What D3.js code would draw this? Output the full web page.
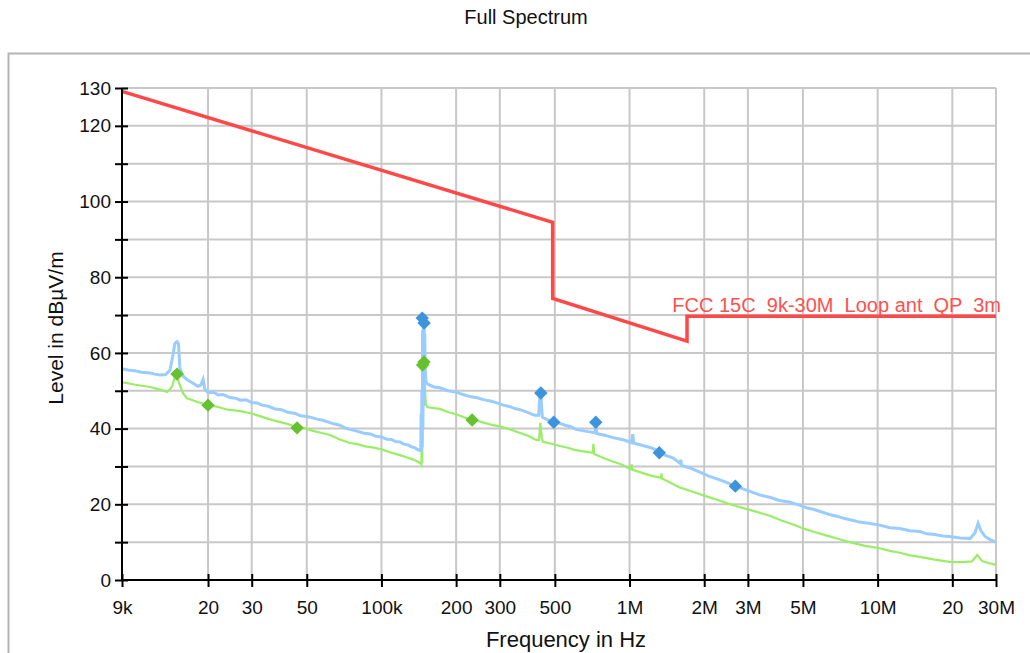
<!DOCTYPE html>
<html><head><meta charset="utf-8">
<script src="https://cdn.jsdelivr.net/npm/d3@7"></script>
<style>
body{margin:0;background:#fff;}
svg{display:block;font-family:"Liberation Sans",Arial,sans-serif;}
</style></head><body>
<svg id="c" width="1030" height="653"></svg>
<script>
// ---- data ----
const title = "Full Spectrum";
const xLabel = "Frequency in Hz";
const yLabel = "Level in dBµV/m";
const limitLabel = "FCC 15C  9k-30M  Loop ant  QP  3m";

const xTickValues = [9e3,20e3,30e3,50e3,100e3,200e3,300e3,500e3,1e6,2e6,3e6,5e6,10e6,20e6,30e6];
const xTickLabels = ["9k","20","30","50","100k","200","300","500","1M","2M","3M","5M","10M","20","30M"];
const yTickValues = [0,10,20,30,40,50,60,70,80,90,100,110,120,130];
const yTickLabels = ["0","","20","","40","","60","","80","","100","","120","130"];

const limitFreq  = [9e3, 490e3, 490e3, 1.705e6, 1.705e6, 30e6];
const limitLevel = [129.1, 94.5, 74.4, 63.1, 69.7, 69.7];

const peakFreq = [9.0e3,9.5e3,10.15e3,10.8e3,11.67e3,12.2e3,12.8e3,13.5e3,14.05e3,14.4e3,14.7e3,15.0e3,15.2e3,15.4e3,15.8e3,16.4e3,17.4e3,18.2e3,18.7e3,19.1e3,19.4e3,
  20e3,21e3,22e3,23e3,24.5e3,26e3,27e3,28.5e3,30e3,31.5e3,33e3,35e3,37.3e3,39.5e3,42e3,45e3,47e3,50e3,52.5e3,55e3,58e3,62e3,65e3,68e3,71e3,74.6e3,79e3,85e3,90e3,95e3,100e3,105e3,110e3,114e3,118.8e3,123e3,128e3,132e3,136e3,140e3,144e3,
  144.5e3,145e3,145.5e3,146e3,146.5e3,147e3,147.5e3,148e3,148.5e3,149e3,149.5e3,150e3,151e3,152e3,155e3,163e3,172e3,185e3,200e3,213e3,227e3,245e3,260e3,275e3,292e3,310e3,330e3,345e3,362e3,390e3,414e3,430e3,435e3,440e3,445e3,470e3,495e3,523e3,550e3,580e3,605e3,631e3,680e3,725e3,731e3,737e3,800e3,874e3,950e3,1.02e6,1.03e6,1.04e6,1.12e6,1.21e6,1.3e6,1.39e6,1.5e6,1.60e6,1.61e6,1.62e6,1.75e6,1.92e6,2.1e6,2.30e6,2.5e6,2.67e6,3.0e6,3.34e6,3.7e6,4.02e6,4.4e6,4.84e6,5.2e6,5.5e6,6.0e6,6.4e6,6.9e6,7.3e6,7.9e6,8.45e6,9.2e6,10.2e6,11.2e6,12.3e6,13.5e6,14.8e6,15.8e6,17e6,18.3e6,19.5e6,21.5e6,23.6e6,24.7e6,25.4e6,26.1e6,27.1e6,28.5e6,30e6];
const peakLevel = [55.8,55.5,55.3,54.9,54.7,54.4,54.2,54.3,55.5,59.0,62.5,63.0,62.5,56.0,54.0,53.0,52.0,51.2,51.5,53.0,50.5,
  49.5,49.6,48.9,49.0,48.2,48.0,47.5,47.6,46.9,46.8,46.2,45.9,45.2,45.0,44.3,44.0,43.4,43.2,42.9,42.5,42.2,41.6,41.2,40.9,40.2,39.8,39.4,38.8,38.6,38.0,37.8,37.2,37.1,36.6,36.5,35.9,35.7,35.2,35.0,34.4,34.2,
  44.0,34.0,50.0,35.0,66.0,40.0,69.0,46.0,68.0,57.0,65.0,56.0,53.0,52.0,51.6,51.0,50.8,50.0,49.7,49.0,48.5,48.1,47.6,47.3,46.8,46.2,45.8,45.3,45.0,44.2,43.5,43.5,48.5,48.0,43.0,42.3,41.9,41.4,40.9,40.5,39.9,39.6,39.2,38.9,41.0,38.7,38.2,37.5,37.0,36.3,38.5,36.2,35.6,35.0,34.2,33.0,32.2,30.8,31.8,30.3,29.6,28.5,27.4,26.5,25.6,24.8,23.6,22.5,21.8,21.0,20.6,19.8,19.0,18.7,17.9,17.3,16.8,16.3,15.8,15.3,15.0,14.5,13.8,13.6,13.0,12.8,12.2,12.0,11.6,11.5,11.1,11.0,12.5,15.0,13.0,11.5,10.6,10.0];

const avgFreq = [9.0e3,10.2e3,11.67e3,12.8e3,13.7e3,14.3e3,14.7e3,15.0e3,15.3e3,15.8e3,16.4e3,18e3,20e3,22e3,24e3,27e3,30e3,33e3,37e3,41e3,45.7e3,50e3,53e3,57e3,62e3,68e3,74.6e3,80e3,86e3,93e3,100e3,109e3,118.8e3,125e3,132e3,138e3,144e3,
  145e3,145.5e3,146e3,146.5e3,147e3,148e3,149e3,150e3,151e3,153e3,160e3,172e3,185e3,200e3,215e3,231e3,248e3,265e3,282e3,300e3,330e3,360e3,390e3,420e3,432e3,437e3,443e3,448e3,485e3,523e3,560e3,600e3,650e3,710e3,715e3,720e3,780e3,850e3,930e3,1.01e6,1.02e6,1.03e6,1.1e6,1.2e6,1.34e6,1.345e6,1.35e6,1.45e6,1.6e6,1.8e6,2.0e6,2.3e6,2.6e6,2.95e6,3.34e6,3.7e6,4.1e6,4.6e6,5.07e6,5.6e6,6.2e6,6.9e6,7.71e6,8.9e6,10.2e6,11.2e6,12.3e6,13.5e6,14.8e6,17e6,19.5e6,22e6,24.0e6,25.2e6,26.4e6,28e6,30e6];
const avgLevel = [52.3,51.6,51.0,50.3,49.7,51.0,53.5,54.2,52.0,49.5,48.1,47.1,46.2,45.7,45.0,44.6,44.0,43.1,42.1,41.4,40.4,40.0,39.4,38.9,38.3,37.1,36.2,35.9,35.3,35.0,34.5,33.7,33.0,32.5,32.0,31.5,30.8,
  30.5,40.0,31.0,55.0,56.0,57.0,56.0,50.0,46.5,45.7,45.5,45.2,44.4,43.8,43.0,42.3,41.9,41.4,40.9,40.6,39.8,38.9,38.1,37.0,37.0,41.5,37.5,36.5,36.0,35.4,35.0,34.4,34.0,33.6,36.0,33.3,32.3,31.4,30.5,29.3,30.5,29.1,28.5,27.7,27.0,28.2,26.8,25.8,24.4,23.3,22.3,21.0,19.8,18.8,17.8,16.9,15.7,14.6,13.5,12.6,11.8,10.9,10.0,9.0,8.4,7.7,7.2,6.5,6.1,5.4,4.8,4.7,4.9,6.6,5.0,4.5,4.0];

const peakMarkerFreq  = [146e3,148.6e3,439e3,495e3,731e3,1.318e6,2.67e6];
const peakMarkerLevel = [69.2,67.9,49.4,41.7,41.7,33.6,24.8];
const avgMarkerFreq   = [15.0e3,20.0e3,45.7e3,146.5e3,148.5e3,232e3];
const avgMarkerLevel  = [54.4,46.2,40.2,56.8,57.6,42.3];

// ---- layout ----
const svg = d3.select("#c");
const m = {l:122, r:996, t:88, b:580};
const x = d3.scaleLog().domain([9e3,30e6]).range([m.l,m.r]);
const y = d3.scaleLinear().domain([0,130]).range([m.b,m.t]);

// outer frame
svg.append("rect").attr("x",8.5).attr("y",53.5).attr("width",1040).attr("height",640)
  .attr("fill","#fff").attr("stroke","#b4b4b4").attr("stroke-width",2);

// title
svg.append("text").attr("x",526).attr("y",24).attr("text-anchor","middle")
  .attr("font-size",20).attr("fill","#111").text(title);

// grid
const grid = svg.append("g").attr("stroke","#c8c8c8").attr("stroke-width",2);
grid.selectAll("line.v").data(xTickValues.slice(1)).join("line")
  .attr("x1",d=>x(d)).attr("x2",d=>x(d)).attr("y1",m.t).attr("y2",m.b);
grid.selectAll("line.h").data(yTickValues.slice(1)).join("line")
  .attr("x1",m.l).attr("x2",m.r).attr("y1",d=>y(d)).attr("y2",d=>y(d));

// traces
const line = (fs, ls) => d3.line().x((d,i)=>x(fs[i])).y((d,i)=>y(ls[i]))(fs);
svg.append("path").attr("d",line(avgFreq,avgLevel)).attr("fill","none")
  .attr("stroke","#99ee66").attr("stroke-width",2.2);
svg.append("path").attr("d",line(peakFreq,peakLevel)).attr("fill","none")
  .attr("stroke","#99ccff").attr("stroke-width",3);

// limit
svg.append("path").attr("d",line(limitFreq,limitLevel)).attr("fill","none")
  .attr("stroke","#ff4848").attr("stroke-width",3.5);
svg.append("text").attr("x",x(30e6)+5).attr("y",y(69.7)-4).attr("text-anchor","end")
  .attr("font-size",20).attr("fill","#ff5050").style("white-space","pre").text(limitLabel);

// markers
const diamond = d3.symbol().type(d3.symbolDiamond2).size(115);
svg.append("g").selectAll("path").data(avgMarkerFreq).join("path")
  .attr("d",diamond).attr("fill","#66c030")
  .attr("transform",(d,i)=>`translate(${x(d)},${y(avgMarkerLevel[i])})`);
svg.append("g").selectAll("path").data(peakMarkerFreq).join("path")
  .attr("d",diamond).attr("fill","#3d93dc")
  .attr("transform",(d,i)=>`translate(${x(d)},${y(peakMarkerLevel[i])})`);

// axes
const xAxis = d3.axisBottom(x).tickValues(xTickValues).tickFormat((d,i)=>xTickLabels[i]).tickSize(7).tickPadding(14);
const gx = svg.append("g").attr("transform",`translate(0,${m.b})`).call(xAxis);
gx.select(".domain").attr("stroke","#000").attr("stroke-width",2);
gx.selectAll(".tick line").attr("stroke","#000").attr("stroke-width",2).attr("y1",-6);
gx.selectAll(".tick text").attr("font-size",19).attr("fill","#111").attr("font-family","Liberation Sans, Arial, sans-serif");

const yAxis = d3.axisLeft(y).tickValues(yTickValues).tickFormat((d,i)=>yTickLabels[i]).tickSize(7).tickPadding(4);
const gy = svg.append("g").attr("transform",`translate(${m.l},0)`).call(yAxis);
gy.select(".domain").attr("stroke","#000").attr("stroke-width",2);
gy.selectAll(".tick line").attr("stroke","#000").attr("stroke-width",2).attr("x2",6).attr("x1",-7);
gy.selectAll(".tick text").attr("font-size",19).attr("fill","#111").attr("font-family","Liberation Sans, Arial, sans-serif");
gx.select(".domain").attr("d",`M${m.l},0H${m.r}`);
gy.select(".domain").attr("d",`M0,${m.b}V${m.t}`);

// axis titles
svg.append("text").attr("x",566).attr("y",647).attr("text-anchor","middle")
  .attr("font-size",22).attr("fill","#111").text(xLabel);
svg.append("text").attr("transform","translate(63,328) rotate(-90)").attr("text-anchor","middle")
  .attr("font-size",21).attr("fill","#111").text(yLabel);
</script>
</body></html>
